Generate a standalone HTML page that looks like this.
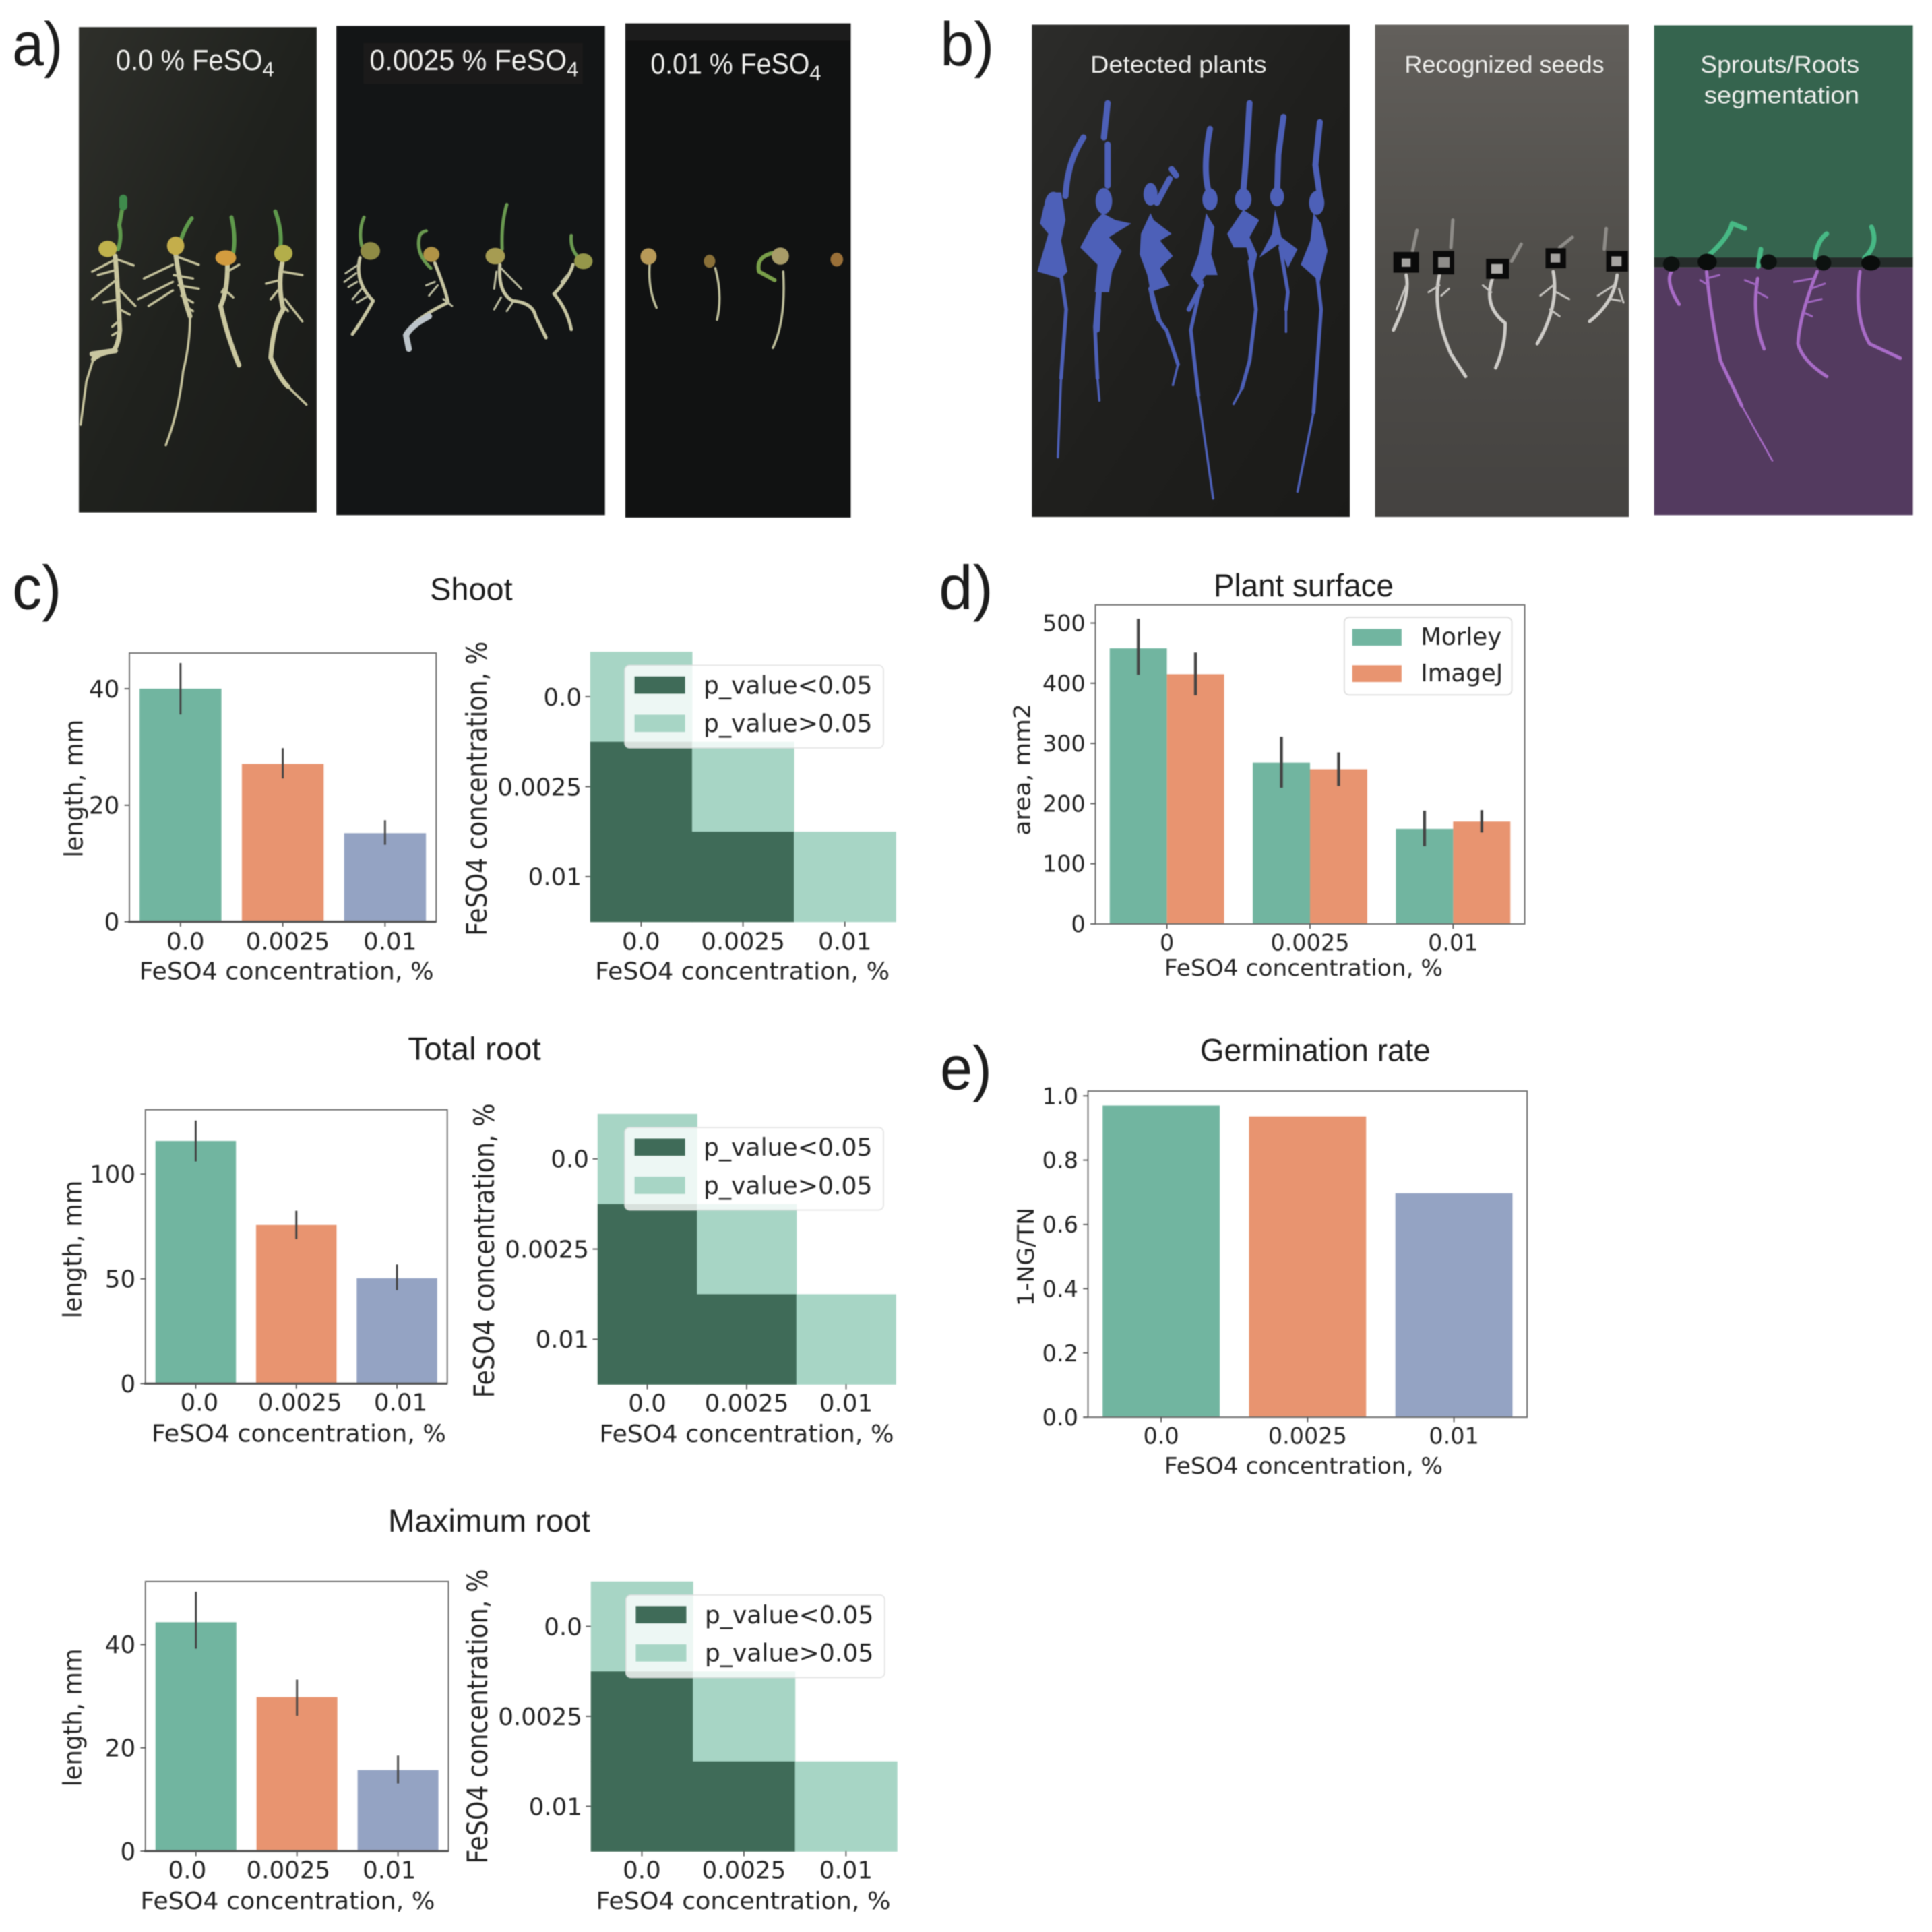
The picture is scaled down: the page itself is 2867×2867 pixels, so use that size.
<!DOCTYPE html>
<html lang="en">
<head>
<meta charset="utf-8">
<title>FeSO4 plant growth analysis figure</title>
<style>
html,body{margin:0;padding:0;background:#fff;width:2867px;height:2867px;overflow:hidden}
svg{display:block;filter:blur(.8px)}
text{font-family:"DejaVu Sans","Liberation Sans",sans-serif;fill:#222}
.myr{font-family:"Liberation Sans",sans-serif;fill:#1c1c1c}
.ph{font-family:"Liberation Sans",sans-serif;fill:#f0f0ee}
.plants path{vector-effect:non-scaling-stroke;fill:none;stroke-linecap:round;stroke-linejoin:round}
</style>
</head>
<body>
<svg id="fig" xmlns="http://www.w3.org/2000/svg" width="2867" height="2867" viewBox="0 0 1568 1568">
<defs>
<linearGradient id="g1" x1="0" y1="0" x2="1" y2="1"><stop offset="0" stop-color="#2e2f2a"/><stop offset=".5" stop-color="#1f211d"/><stop offset="1" stop-color="#191a18"/></linearGradient>
<linearGradient id="g2" x1="0" y1="0" x2="1" y2="1"><stop offset="0" stop-color="#2c2c2a"/><stop offset=".5" stop-color="#1f1f1d"/><stop offset="1" stop-color="#1a1a18"/></linearGradient>
<linearGradient id="g3" x1="0" y1="0" x2="0" y2="1"><stop offset="0" stop-color="#625f5b"/><stop offset=".5" stop-color="#4f4d49"/><stop offset="1" stop-color="#444240"/></linearGradient>
</defs>
<rect width="1568" height="1568" fill="#fff"/>

<g>
<text class="myr" x="10" y="53" font-size="50" textLength="41" lengthAdjust="spacingAndGlyphs">a)</text>
<rect x="64" y="22" width="193" height="394" fill="url(#g1)"/>
<rect x="273" y="21" width="218" height="397" fill="#131516"/>
<rect x="295" y="35" width="178" height="33" fill="#1b1a1a"/>
<rect x="507.500" y="19" width="183" height="401" fill="#111212"/>
<rect x="507.500" y="19" width="183" height="14" fill="#1c1c1c"/>
<text class="ph" x="94" y="57" font-size="24"><tspan textLength="119" lengthAdjust="spacingAndGlyphs">0.0 % FeSO</tspan><tspan font-size="17" dy="5">4</tspan></text>
<text class="ph" x="300" y="57" font-size="24"><tspan textLength="160" lengthAdjust="spacingAndGlyphs">0.0025 % FeSO</tspan><tspan font-size="17" dy="5">4</tspan></text>
<text class="ph" x="528" y="60" font-size="24"><tspan textLength="129" lengthAdjust="spacingAndGlyphs">0.01 % FeSO</tspan><tspan font-size="17" dy="5">4</tspan></text>
<g class="plants" transform="scale(.4674,.279)">
<g>
<path stroke="#5f9a4c" stroke-width="6" d="M205 725Q212 690 207 655Q212 610 214 590M311 715Q318 670 333 635M405 735Q410 690 402 632M487 715Q490 670 478 615"/>
<path stroke="#3f8a4c" stroke-width="12" d="M214 600L214 578"/>
<path stroke="#cbc8a0" stroke-width="7" d="M200 745Q205 850 208 960Q205 1010 195 1022Q170 1030 162 1045M305 740Q312 830 330 920M395 770Q395 850 383 890Q395 980 415 1062M490 765Q482 830 492 900Q475 940 470 1040Q485 1100 500 1125"/>
<path stroke="#c6c39c" stroke-width="3.500" d="M162 1045L150 1110L140 1235M330 920Q330 1000 318 1080Q310 1200 288 1295M500 1125L532 1177"/>
<path stroke="#c4c19a" stroke-width="3.500" d="M200 755L160 790M204 755L232 772M202 785L170 800M205 810L160 870M206 840L235 890M207 870L180 880M208 900L225 915M209 930L195 950M210 960L195 975M305 745L345 770M300 770L250 810M302 800L335 810M300 820L240 870M310 830L345 840M300 845L258 890M315 860L335 880M322 890L335 905M395 790L415 770M393 830L385 850M395 850L405 865M490 790L525 800M485 815L462 825M485 840L470 870M495 870L525 935M490 885L500 905"/>
<path stroke="#c9c6a0" stroke-width="8" d="M160 1030L200 1020"/>
<ellipse cx="187" cy="724" rx="16" ry="24" fill="#c0b24c"/><ellipse cx="305" cy="715" rx="15" ry="27" fill="#c4ae4b"/><ellipse cx="392" cy="750" rx="18" ry="22" fill="#d39c3f"/><ellipse cx="492" cy="737" rx="16" ry="25" fill="#b3ae4a"/>
</g>
<g>
<path stroke="#6a9a50" stroke-width="5" d="M628 715Q622 670 632 632M872 725Q870 650 880 595M1002 745Q990 720 992 685M748 780Q722 740 728 690Q730 675 740 672"/>
<path stroke="#c8c6a2" stroke-width="5" d="M625 750Q615 820 648 875Q630 930 612 972M755 765Q775 850 778 880Q740 910 720 940M868 770Q864 850 890 875Q925 880 930 920L948 982M995 770Q988 810 962 855Q985 900 992 958"/>
<path stroke="#bcc4ca" stroke-width="9" d="M745 920Q715 945 705 975L710 1015"/>
<path stroke="#bdbda0" stroke-width="3" d="M622 770L600 795M618 795L598 820M620 820L605 835M628 840L612 870M640 860L620 880M755 820L740 830M760 830L745 860M770 870L785 890M862 790L858 840M870 780L905 840M870 865L858 900M890 880L880 905M985 800L975 820"/>
<ellipse cx="643" cy="730" rx="17" ry="26" fill="#8f8b45"/><ellipse cx="749" cy="740" rx="14" ry="22" fill="#b09346"/><ellipse cx="860" cy="745" rx="17" ry="24" fill="#a69c52"/><ellipse cx="1013" cy="760" rx="16" ry="23" fill="#95974a"/>
</g>
<g>
<path stroke="#bfbf9a" stroke-width="3.500" d="M1128 770Q1125 840 1140 895M1242 780Q1255 860 1245 930M1360 790Q1365 930 1342 1012"/>
<path stroke="#7aa04a" stroke-width="6" d="M1345 735Q1312 745 1318 790L1345 815"/>
<ellipse cx="1126" cy="746" rx="14" ry="24" fill="#b89a58"/><ellipse cx="1232" cy="760" rx="10" ry="19" fill="#8a7038"/><ellipse cx="1355" cy="745" rx="15" ry="25" fill="#a89c68"/><ellipse cx="1453" cy="755" rx="11" ry="20" fill="#9a7038"/>
</g>
</g>
</g>

<g>
<text class="myr" x="763" y="53" font-size="50" textLength="44" lengthAdjust="spacingAndGlyphs">b)</text>
<rect x="837.500" y="20" width="258" height="399.500" fill="url(#g2)"/>
<rect x="1116" y="20" width="206" height="399.500" fill="url(#g3)"/>
<rect x="1342.500" y="20.500" width="210" height="189" fill="#35644e"/>
<rect x="1342.500" y="217" width="210" height="201" fill="#533a5f"/>
<rect x="1342.500" y="209" width="210" height="8" fill="#252c2a"/>
<text class="ph" x="885" y="59" font-size="20" textLength="143" lengthAdjust="spacingAndGlyphs">Detected plants</text>
<text class="ph" x="1140" y="59" font-size="20" textLength="162" lengthAdjust="spacingAndGlyphs">Recognized seeds</text>
<text class="ph" x="1380" y="59" font-size="20" textLength="129" lengthAdjust="spacingAndGlyphs">Sprouts/Roots</text>
<text class="ph" x="1383" y="84" font-size="20" textLength="126" lengthAdjust="spacingAndGlyphs">segmentation</text>
<g class="plants" transform="translate(754.800,0) scale(.5187,.279)">
<g fill="#4d60b8">
<path stroke="#4d60b8" stroke-width="9" d="M240 400Q215 470 212 570M278 300L272 400M278 420L278 540M378 492L385 510M375 520L355 590M438 375Q425 500 438 570M500 300L495 450L490 560M553 340L545 450L543 560M610 355L603 480L610 570"/>
<path stroke="#4d60b8" stroke-width="7" d="M425 830L405 900M265 850L262 960M345 840L358 930"/>
<path stroke="#4d60b8" stroke-width="5.500" d="M205 800L213 900L205 1100M265 800L258 950L262 1100M345 840Q350 920 370 960L388 1060M425 820L408 960L420 1150M500 760L510 900L500 1050L488 1130M548 720L560 850L557 900M605 790L612 900L600 1200"/>
<path stroke="#4d60b8" stroke-width="3.500" d="M205 1100L200 1330M262 1100L265 1165M388 1060L380 1120M420 1150L443 1450M488 1130L475 1175M557 900L557 965M600 1200L575 1430"/>
<polygon points="205,560 190,560 178,600 172,650 185,680 168,790 205,810 215,790 205,700 212,640 208,590"/>
<polygon points="270,620 255,650 235,720 262,770 258,850 280,850 285,790 300,730 280,690 315,650 290,640"/>
<polygon points="345,620 330,680 328,740 340,800 345,850 375,830 360,780 380,745 360,700 378,680 350,640"/>
<polygon points="432,620 420,740 408,800 420,830 432,800 450,800 440,740 445,660"/>
<polygon points="490,610 465,680 475,720 495,720 505,800 512,740 500,690 515,640"/>
<polygon points="540,610 535,680 515,750 545,710 560,780 575,725 550,690"/>
<polygon points="600,620 595,700 580,770 610,820 622,730 612,650"/>
<ellipse cx="193" cy="600" rx="14" ry="42"/><ellipse cx="272" cy="585" rx="13" ry="38"/><ellipse cx="345" cy="565" rx="11" ry="33"/><ellipse cx="438" cy="580" rx="12" ry="32"/><ellipse cx="490" cy="580" rx="13" ry="32"/><ellipse cx="543" cy="572" rx="11" ry="28"/><ellipse cx="605" cy="590" rx="12" ry="35"/>
</g>
<g>
<path stroke="#8e8c88" stroke-width="5" d="M755 730L762 670M815 720L818 640M910 760L925 710M985 720L1005 690M1055 725L1058 665"/>
<path stroke="#cfcdc9" stroke-width="5" d="M745 800Q752 860 725 960M797 800Q785 900 815 1030L838 1095M880 810Q865 890 900 940Q900 1010 885 1070M975 790Q985 890 950 1000M1075 800Q1070 880 1032 935"/>
<path stroke="#c4c2be" stroke-width="3" d="M745 830L730 900M797 830L780 850M800 860L812 840M878 850L865 830M975 830L955 860M980 850L1000 870M970 900L985 920M1070 830L1045 860M1078 840L1085 880M1065 870L1080 875"/>
<g>
<rect x="725" y="733" width="40" height="60" fill="#0a0a0a"/><rect x="738" y="752" width="14" height="24" fill="#a5a3a0"/>
<rect x="787" y="730" width="33" height="68" fill="#0a0a0a"/><rect x="795" y="748" width="18" height="30" fill="#8f8d8a"/>
<rect x="870" y="753" width="36" height="58" fill="#0a0a0a"/><rect x="878" y="768" width="18" height="28" fill="#b0aeab"/>
<rect x="963" y="722" width="32" height="58" fill="#0a0a0a"/><rect x="971" y="738" width="15" height="26" fill="#a5a3a0"/>
<rect x="1058" y="730" width="34" height="60" fill="#0a0a0a"/><rect x="1066" y="746" width="16" height="28" fill="#a5a3a0"/>
</g>
</g>
<g>
<path stroke="#47b985" stroke-width="7" d="M1220 740Q1250 690 1255 650L1275 665M1296 775L1300 725M1385 750Q1388 700 1403 680M1462 750Q1485 710 1473 660"/>
<path stroke="#a96cc8" stroke-width="5" d="M1160 790Q1150 820 1172 885M1215 790Q1220 900 1237 1050L1270 1180M1295 810Q1285 920 1305 1015M1388 790Q1360 920 1358 1000Q1365 1050 1403 1095M1455 790Q1445 920 1470 1000L1518 1042"/>
<path stroke="#a96cc8" stroke-width="2.500" d="M1270 1180L1318 1340"/>
<path stroke="#a066c0" stroke-width="3" d="M1215 810L1235 800M1218 830L1205 815M1295 830L1275 815M1295 850L1310 865M1382 810L1352 820M1378 840L1400 825M1372 880L1395 870M1368 910L1380 920"/>
<ellipse cx="1160" cy="768" rx="13" ry="22" fill="#0d1210"/><ellipse cx="1216" cy="762" rx="15" ry="24" fill="#0a0d0c"/><ellipse cx="1312" cy="762" rx="13" ry="22" fill="#0d1210"/><ellipse cx="1398" cy="765" rx="12" ry="22" fill="#0d1210"/><ellipse cx="1472" cy="765" rx="15" ry="22" fill="#0a0d0c"/>
</g>
</g>
</g>

<g>
<text class="myr" x="10" y="494" font-size="50" textLength="40" lengthAdjust="spacingAndGlyphs">c)</text>
<text class="myr" x="762" y="494" font-size="50" textLength="44" lengthAdjust="spacingAndGlyphs">d)</text>
<text class="myr" x="763" y="884" font-size="50" textLength="42" lengthAdjust="spacingAndGlyphs">e)</text>
<text class="myr" x="349" y="487" font-size="26" textLength="67" lengthAdjust="spacingAndGlyphs">Shoot</text>
<text class="myr" x="331" y="860" font-size="26" textLength="108" lengthAdjust="spacingAndGlyphs">Total root</text>
<text class="myr" x="315" y="1243" font-size="26" textLength="164" lengthAdjust="spacingAndGlyphs">Maximum root</text>
<text class="myr" x="985" y="484" font-size="26" textLength="146" lengthAdjust="spacingAndGlyphs">Plant surface</text>
<text class="myr" x="974" y="861" font-size="26" textLength="187" lengthAdjust="spacingAndGlyphs">Germination rate</text>
</g>
<g id="charts"></g>
</svg>

<script>
// ---- Chart data ----
const concentrationCategories = ['0.0', '0.0025', '0.01'];
const surfaceCategories = ['0', '0.0025', '0.01'];

const shootLength = [40, 27.1, 15.2];
const shootLow = [35.6, 24.6, 13.2];
const shootHigh = [44.4, 29.8, 17.4];
const shootTicks = [0, 20, 40];

const totalRootLength = [115.8, 75.7, 50.3];
const totalRootLow = [106, 69, 44.6];
const totalRootHigh = [125.5, 82.5, 56.9];
const totalRootTicks = [0, 50, 100];

const maxRootLength = [44.3, 29.8, 15.7];
const maxRootLow = [39.2, 26.2, 13.1];
const maxRootHigh = [50.2, 33.2, 18.5];
const maxRootTicks = [0, 20, 40];

const morleyArea = [458, 268, 158];
const morleyLow = [414, 226, 129];
const morleyHigh = [507, 311, 188];
const imageJArea = [415, 257, 170];
const imageJLow = [380, 229, 152];
const imageJHigh = [451, 285, 189];
const surfaceTicks = [0, 100, 200, 300, 400, 500];

const germinationRate = [0.97, 0.936, 0.697];
const germinationTicks = [0, 0.2, 0.4, 0.6, 0.8, 1.0];
const germinationTickLabels = ['0.0', '0.2', '0.4', '0.6', '0.8', '1.0'];

// 1 = p_value<0.05, 0 = p_value>0.05, null = empty
const shootSignificance = [[0, null, null], [1, 0, null], [1, 1, 0]];
const totalRootSignificance = [[0, null, null], [1, 0, null], [1, 1, 0]];
const maxRootSignificance = [[0, null, null], [1, 0, null], [1, 1, 0]];
const legendLabels = ['p_value<0.05', 'p_value>0.05'];
const surfaceLegendLabels = ['Morley', 'ImageJ'];

// ---- Drawing ----
const NS = 'http://www.w3.org/2000/svg';
const GREEN = '#71b5a0', ORANGE = '#e89470', BLUE = '#94a3c3', DARK = '#3f6b58', LIGHT = '#a7d5c5';
const categoryColors = [GREEN, ORANGE, BLUE];
const root = document.getElementById('charts');

function mk(parent, tag, attrs, text) {
  const n = document.createElementNS(NS, tag);
  for (const k in attrs) n.setAttribute(k, attrs[k]);
  if (text !== undefined) n.textContent = text;
  parent.appendChild(n);
  return n;
}
function xBand(frame, count) {
  const step = (frame.x1 - frame.x0) / count;
  return i => frame.x0 + step * (i + 0.5);
}
function yLinear(frame, yMax) {
  return v => frame.y1 - (v / yMax) * (frame.y1 - frame.y0);
}

function drawBars(cfg) {
  const f = cfg.frame;
  const g = mk(root, 'g', {});
  
  
  const cx = xBand(f, cfg.categories.length);
  const y = yLinear(f, cfg.yMax);
  const step = (f.x1 - f.x0) / cfg.categories.length;
  const n = cfg.series.length;
  const w = 0.8 * step / n;
  cfg.series.forEach((s, si) => {
    s.values.forEach((v, i) => {
      const left = cx(i) - 0.4 * step + si * w;
      const color = n === 1 ? categoryColors[i] : s.color;
      const bar = mk(g, 'rect', { x: left, y: y(v), width: w, height: f.y1 - y(v), fill: color });
      
      
    });
  });
  cfg.series.forEach((s, si) => {
    if (!s.low) return;
    s.values.forEach((v, i) => {
      const mid = cx(i) - 0.4 * step + (si + 0.5) * w;
      const err = mk(g, 'line', { x1: mid, x2: mid, y1: y(s.low[i]), y2: y(s.high[i]), stroke: '#444', 'stroke-width': cfg.errWidth });
      
      
    });
  });
  const frame = mk(g, 'rect', { x: f.x0, y: f.y0, width: f.x1 - f.x0, height: f.y1 - f.y0, fill: 'none', stroke: '#666', 'stroke-width': 1 });
  
  
  if (cfg.heavyBase) {
    const base = mk(g, 'line', { x1: f.x0 - 1, x2: f.x1, y1: f.y1, y2: f.y1, stroke: '#555', 'stroke-width': 1.8 });
    
    
  }
  cfg.ticks.forEach((t, i) => {
    const tick = mk(g, 'line', { x1: f.x0 - 4, x2: f.x0, y1: y(t), y2: y(t), stroke: '#555', 'stroke-width': 1 });
    
    
    const lab = mk(g, 'text', { x: f.x0 - cfg.tickPad, y: y(t) + cfg.font * 0.36, 'font-size': cfg.font, 'text-anchor': 'end' }, cfg.tickLabels ? cfg.tickLabels[i] : String(t));
    
    
  });
  cfg.categories.forEach((c, i) => {
    const tick = mk(g, 'line', { x1: cx(i), x2: cx(i), y1: f.y1, y2: f.y1 + 4, stroke: '#555', 'stroke-width': 1 });
    
    
    const lab = mk(g, 'text', { x: cx(i) + cfg.labelDx, y: f.y1 + cfg.tickDy, 'font-size': cfg.font, 'text-anchor': 'middle' }, c);
    
    
  });
  const xl = mk(g, 'text', { x: cfg.xLabel.cx, y: f.y1 + cfg.xLabel.dy, 'font-size': cfg.font, 'text-anchor': 'middle', textLength: cfg.xLabel.len, lengthAdjust: 'spacingAndGlyphs' }, 'FeSO4 concentration, %');
  
  
  const yl = mk(g, 'text', { transform: 'translate(' + cfg.yLabel.x + ',' + cfg.yLabel.cy + ') rotate(-90)', 'font-size': cfg.yLabel.font || cfg.font, 'text-anchor': 'middle', textLength: cfg.yLabel.len, lengthAdjust: 'spacingAndGlyphs' }, cfg.yLabel.text);
  
  
  return g;
}

function drawHeat(cfg) {
  const f = cfg.frame;
  const g = mk(root, 'g', {});
  
  
  const cats = cfg.categories;
  const cw = (f.x1 - f.x0) / cats.length;
  const ch = (f.y1 - f.y0) / cats.length;
  const cx = i => f.x0 + cw * (i + 0.5);
  const cy = i => f.y0 + ch * (i + 0.5);
  cfg.matrix.forEach((row, r) => {
    row.forEach((v, c) => {
      if (v === null) return;
      const cell = mk(g, 'rect', { x: cx(c) - cw / 2, y: cy(r) - ch / 2, width: cw + 0.3, height: ch + 0.3, fill: v === 1 ? DARK : LIGHT });
      
      
    });
  });
  cats.forEach((c, i) => {
    const xt = mk(g, 'line', { x1: cx(i), x2: cx(i), y1: f.y1, y2: f.y1 + 4, stroke: '#555', 'stroke-width': 1 });
    
    
    const xlab = mk(g, 'text', { x: cx(i), y: f.y1 + cfg.tickDy, 'font-size': 19.5, 'text-anchor': 'middle' }, c);
    
    
    const yt = mk(g, 'line', { x1: f.x0 - 4, x2: f.x0, y1: cy(i), y2: cy(i), stroke: '#555', 'stroke-width': 1 });
    
    
    const ylab = mk(g, 'text', { x: f.x0 - 7, y: cy(i) + 7, 'font-size': 19.5, 'text-anchor': 'end' }, c);
    
    
  });
  const xl = mk(g, 'text', { x: (f.x0 + f.x1) / 2 + cfg.xLabelDx, y: f.y1 + cfg.xLabelDy, 'font-size': 19.5, 'text-anchor': 'middle', textLength: 239, lengthAdjust: 'spacingAndGlyphs' }, 'FeSO4 concentration, %');
  
  
  const yl = mk(g, 'text', { transform: 'translate(' + cfg.yLabel.x + ',' + cfg.yLabel.cy + ') rotate(-90)', 'font-size': 23, 'text-anchor': 'middle', textLength: 239, lengthAdjust: 'spacingAndGlyphs' }, 'FeSO4 concentration, %');
  
  

  const lg = mk(g, 'g', {});
  
  
  const box = mk(lg, 'rect', { x: cfg.legendX, y: f.y0 + 11, width: 210, height: 67, rx: 4, fill: '#fff', 'fill-opacity': 0.8, stroke: '#ddd', 'stroke-opacity': 0.8 });
  
  
  legendLabels.forEach((t, i) => {
    const py = f.y0 + 20 + i * 31;
    const patch = mk(lg, 'rect', { x: cfg.legendX + 8, y: py, width: 41, height: 14, fill: i === 0 ? DARK : LIGHT });
    
    
    const lab = mk(lg, 'text', { x: cfg.legendX + 64, y: py + 14, 'font-size': 20, textLength: 137, lengthAdjust: 'spacingAndGlyphs' }, t);
    
    
  });
}

// Panel c – bar charts
drawBars({ name: 'shoot-bar-chart', frame: { x0: 105, x1: 354, y0: 530, y1: 748 }, yMax: 46.13, categories: concentrationCategories, heavyBase: true,
  series: [{ name: 'shoot', values: shootLength, low: shootLow, high: shootHigh }], ticks: shootTicks, font: 19.5, tickPad: 8, tickDy: 23, labelDx: 4, errWidth: 1.6,
  xLabel: { cx: 232.5, dy: 47, len: 239 }, yLabel: { x: 67, cy: 640, text: 'length, mm', len: 112, font: 20.5 } });
drawBars({ name: 'total-root-bar-chart', frame: { x0: 118, x1: 363, y0: 900.6, y1: 1123 }, yMax: 130.7, categories: concentrationCategories, heavyBase: true,
  series: [{ name: 'total-root', values: totalRootLength, low: totalRootLow, high: totalRootHigh }], ticks: totalRootTicks, font: 19.5, tickPad: 8, tickDy: 22, labelDx: 3, errWidth: 1.6,
  xLabel: { cx: 242.5, dy: 47, len: 239 }, yLabel: { x: 66, cy: 1014, text: 'length, mm', len: 112, font: 20.5 } });
drawBars({ name: 'maximum-root-bar-chart', frame: { x0: 118, x1: 364, y0: 1283.5, y1: 1502.4 }, yMax: 52.2, categories: concentrationCategories, heavyBase: true,
  series: [{ name: 'maximum-root', values: maxRootLength, low: maxRootLow, high: maxRootHigh }], ticks: maxRootTicks, font: 19.5, tickPad: 8, tickDy: 22, labelDx: -7, errWidth: 1.6,
  xLabel: { cx: 233.5, dy: 47, len: 239 }, yLabel: { x: 66, cy: 1394, text: 'length, mm', len: 112, font: 20.5 } });

// Panel c – significance heatmaps
drawHeat({ name: 'shoot-significance-heatmap', frame: { x0: 479, x1: 727, y0: 529, y1: 748 }, matrix: shootSignificance, categories: concentrationCategories, tickDy: 23, xLabelDy: 47, xLabelDx: -0.5, legendX: 507, yLabel: { x: 395, cy: 640 } });
drawHeat({ name: 'total-root-significance-heatmap', frame: { x0: 485, x1: 727, y0: 904, y1: 1123.5 }, matrix: totalRootSignificance, categories: concentrationCategories, tickDy: 22, xLabelDy: 47, xLabelDx: 0, legendX: 507, yLabel: { x: 401, cy: 1015 } });
drawHeat({ name: 'maximum-root-significance-heatmap', frame: { x0: 479.5, x1: 728, y0: 1283.5, y1: 1502.5 }, matrix: maxRootSignificance, categories: concentrationCategories, tickDy: 22, xLabelDy: 47, xLabelDx: -0.5, legendX: 508, yLabel: { x: 395.5, cy: 1393 } });

// Panel d – grouped bars
const surfaceChart = drawBars({ name: 'plant-surface-bar-chart', frame: { x0: 889, x1: 1237.4, y0: 491, y1: 749.8 }, yMax: 530, categories: surfaceCategories,
  series: [{ name: 'morley', values: morleyArea, low: morleyLow, high: morleyHigh, color: GREEN }, { name: 'imagej', values: imageJArea, low: imageJLow, high: imageJHigh, color: ORANGE }],
  ticks: surfaceTicks, font: 18.3, tickPad: 8, tickDy: 21.5, labelDx: 0, errWidth: 2.4,
  xLabel: { cx: 1058, dy: 42, len: 226 }, yLabel: { x: 836, cy: 624.5, text: 'area, mm2', len: 107 } });
const surfaceLegend = mk(surfaceChart, 'g', {});


const surfaceLegendBox = mk(surfaceLegend, 'rect', { x: 1091, y: 501, width: 136, height: 63, rx: 4, fill: '#fff', 'fill-opacity': 0.8, stroke: '#ddd' });


surfaceLegendLabels.forEach((t, i) => {
  const patch = mk(surfaceLegend, 'rect', { x: 1097.5, y: 510.5 + i * 29.5, width: 40, height: 13.5, fill: i === 0 ? GREEN : ORANGE });
  
  
  const lab = mk(surfaceLegend, 'text', { x: 1153, y: 523.5 + i * 29.5, 'font-size': 19.5 }, t);
  
  
});

// Panel e – germination
drawBars({ name: 'germination-bar-chart', frame: { x0: 883, x1: 1239.4, y0: 885.5, y1: 1150.2 }, yMax: 1.015, categories: concentrationCategories,
  series: [{ name: 'germination', values: germinationRate }], ticks: germinationTicks, tickLabels: germinationTickLabels, font: 18.3, tickPad: 8, tickDy: 21.5, labelDx: 0, errWidth: 0,
  xLabel: { cx: 1058, dy: 46, len: 226 }, yLabel: { x: 839, cy: 1020, text: '1-NG/TN', len: 80 } });
</script>
</body>
</html>
